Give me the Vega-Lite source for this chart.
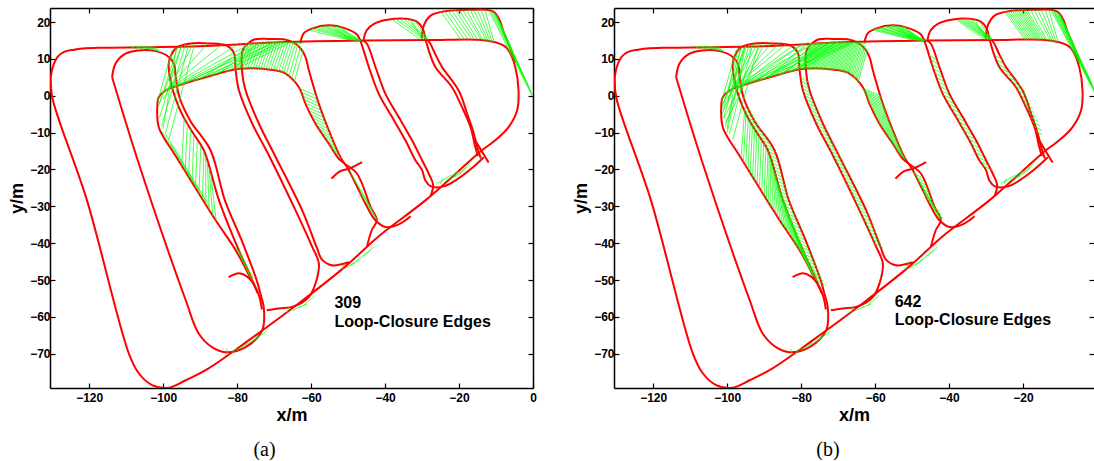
{
"$schema":"https://vega.github.io/schema/vega-lite/v6.json",
"padding":{"left":8,"top":7,"right":0,"bottom":0},
"background":"white",
"spacing":35,
"datasets":{
"traj":[
{"p":"o","i":0,"x":-130.4,"y":5.0},{"p":"o","i":1,"x":-129.9,"y":7.6},{"p":"o","i":2,"x":-128.6,"y":10.5},{"p":"o","i":3,"x":-126.8,"y":11.9},{"p":"o","i":4,"x":-124.1,"y":12.5},{"p":"o","i":5,"x":-121.0,"y":12.9},{"p":"o","i":6,"x":-117.4,"y":13.0},{"p":"o","i":7,"x":-90.4,"y":13.4},{"p":"o","i":8,"x":-68.7,"y":14.5},{"p":"o","i":9,"x":-46.3,"y":15.0},{"p":"o","i":10,"x":-28.2,"y":15.1},{"p":"o","i":11,"x":-14.7,"y":15.2},{"p":"o","i":12,"x":-10.2,"y":14.5},{"p":"o","i":13,"x":-7.9,"y":13.6},{"p":"o","i":14,"x":-6.6,"y":12.3},{"p":"o","i":15,"x":-4.8,"y":7.8},{"p":"o","i":16,"x":-3.9,"y":1.4},{"p":"o","i":17,"x":-4.3,"y":-4.0},{"p":"o","i":18,"x":-6.6,"y":-8.5},{"p":"o","i":19,"x":-10.2,"y":-12.1},{"p":"o","i":20,"x":-13.8,"y":-14.8},{"p":"o","i":21,"x":-29.1,"y":-28.4},{"p":"o","i":22,"x":-41.7,"y":-38.1},{"p":"o","i":23,"x":-50.7,"y":-46.3},{"p":"o","i":24,"x":-63.3,"y":-56.3},{"p":"o","i":25,"x":-76.8,"y":-66.3},{"p":"o","i":26,"x":-87.6,"y":-73.9},{"p":"o","i":27,"x":-93.9,"y":-77.2},{"p":"o","i":28,"x":-98.5,"y":-79.2},{"p":"o","i":29,"x":-103.0,"y":-78.5},{"p":"o","i":30,"x":-106.6,"y":-75.3},{"p":"o","i":31,"x":-109.3,"y":-69.9},{"p":"o","i":32,"x":-120.6,"y":-28.4},{"p":"o","i":33,"x":-130.0,"y":-0.4},{"p":"o","i":34,"x":-130.4,"y":5.0},
{"p":"l2","i":0,"x":-113.8,"y":5.0},{"p":"l2","i":1,"x":-112.9,"y":8.7},{"p":"l2","i":2,"x":-110.2,"y":11.4},{"p":"l2","i":3,"x":-106.6,"y":12.3},{"p":"l2","i":4,"x":-102.1,"y":12.1},{"p":"l2","i":5,"x":-99.0,"y":10.9},{"p":"l2","i":6,"x":-97.1,"y":8.7},{"p":"l2","i":7,"x":-96.6,"y":5.0},{"p":"l2","i":8,"x":-95.6,"y":-0.4},{"p":"l2","i":9,"x":-92.6,"y":-6.9},{"p":"l2","i":10,"x":-87.2,"y":-14.8},{"p":"l2","i":11,"x":-83.3,"y":-28.4},{"p":"l2","i":12,"x":-78.8,"y":-39.2},{"p":"l2","i":13,"x":-74.7,"y":-50.1},{"p":"l2","i":14,"x":-73.6,"y":-54.1},{"p":"l2","i":15,"x":-72.8,"y":-57.4},{"p":"l2","i":16,"x":-73.2,"y":-63.6},{"p":"l2","i":17,"x":-77.7,"y":-68.2},{"p":"l2","i":18,"x":-83.1,"y":-69.6},{"p":"l2","i":19,"x":-86.8,"y":-68.2},{"p":"l2","i":20,"x":-90.4,"y":-64.5},{"p":"l2","i":21,"x":-93.9,"y":-55.5},{"p":"l2","i":22,"x":-106.6,"y":-18.4},{"p":"l2","i":23,"x":-113.8,"y":5.0},
{"p":"l3","i":0,"x":-73.3,"y":-58.0},{"p":"l3","i":1,"x":-74.0,"y":-54.5},{"p":"l3","i":2,"x":-75.9,"y":-50.1},{"p":"l3","i":3,"x":-80.7,"y":-39.2},{"p":"l3","i":4,"x":-84.9,"y":-28.4},{"p":"l3","i":5,"x":-89.0,"y":-14.8},{"p":"l3","i":6,"x":-92.0,"y":-10.0},{"p":"l3","i":7,"x":-94.9,"y":-5.0},{"p":"l3","i":8,"x":-97.6,"y":2.3},{"p":"l3","i":9,"x":-98.5,"y":8.7},{"p":"l3","i":10,"x":-97.9,"y":10.9},{"p":"l3","i":11,"x":-96.3,"y":13.1},{"p":"l3","i":12,"x":-93.1,"y":14.1},{"p":"l3","i":13,"x":-87.6,"y":14.2},{"p":"l3","i":14,"x":-82.8,"y":13.6},{"p":"l3","i":15,"x":-80.9,"y":11.7},{"p":"l3","i":16,"x":-80.4,"y":6.9},{"p":"l3","i":17,"x":-79.5,"y":1.4},{"p":"l3","i":18,"x":-75.9,"y":-7.6},{"p":"l3","i":19,"x":-71.4,"y":-16.2},{"p":"l3","i":20,"x":-64.2,"y":-31.1},{"p":"l3","i":21,"x":-59.7,"y":-41.0},{"p":"l3","i":22,"x":-57.9,"y":-45.5},{"p":"l3","i":23,"x":-58.8,"y":-50.9},{"p":"l3","i":24,"x":-60.6,"y":-54.6},{"p":"l3","i":25,"x":-65.1,"y":-57.3},{"p":"l3","i":26,"x":-68.7,"y":-57.7},{"p":"l3","i":27,"x":-72.0,"y":-58.2},
{"p":"hk","i":0,"x":-82.3,"y":-49.2},{"p":"hk","i":1,"x":-79.5,"y":-48.2},{"p":"hk","i":2,"x":-77.4,"y":-49.0},{"p":"hk","i":3,"x":-75.9,"y":-50.5},{"p":"hk","i":4,"x":-74.5,"y":-53.5},
{"p":"l4","i":0,"x":-49.8,"y":-45.2},{"p":"l4","i":1,"x":-54.4,"y":-46.0},{"p":"l4","i":2,"x":-57.1,"y":-44.4},{"p":"l4","i":3,"x":-58.5,"y":-41.1},{"p":"l4","i":4,"x":-62.4,"y":-31.1},{"p":"l4","i":5,"x":-69.8,"y":-16.2},{"p":"l4","i":6,"x":-74.1,"y":-7.6},{"p":"l4","i":7,"x":-77.7,"y":1.4},{"p":"l4","i":8,"x":-78.6,"y":6.0},{"p":"l4","i":9,"x":-78.5,"y":12.3},{"p":"l4","i":10,"x":-76.8,"y":14.4},{"p":"l4","i":11,"x":-75.2,"y":15.3},{"p":"l4","i":12,"x":-71.4,"y":15.4},{"p":"l4","i":13,"x":-67.4,"y":15.3},{"p":"l4","i":14,"x":-64.7,"y":14.4},{"p":"l4","i":15,"x":-62.8,"y":12.8},{"p":"l4","i":16,"x":-61.5,"y":10.5},{"p":"l4","i":17,"x":-60.6,"y":6.9},{"p":"l4","i":18,"x":-57.9,"y":-2.2},{"p":"l4","i":19,"x":-55.2,"y":-9.4},{"p":"l4","i":20,"x":-52.1,"y":-16.6},{"p":"l4","i":21,"x":-49.8,"y":-20.2},{"p":"l4","i":22,"x":-45.3,"y":-29.3},{"p":"l4","i":23,"x":-42.6,"y":-33.8},{"p":"l4","i":24,"x":-39.9,"y":-35.6},{"p":"l4","i":25,"x":-36.3,"y":-34.9},{"p":"l4","i":26,"x":-33.1,"y":-32.7},
{"p":"in","i":0,"x":-75.9,"y":-50.5},{"p":"in","i":1,"x":-80.4,"y":-41.9},{"p":"in","i":2,"x":-85.8,"y":-33.8},{"p":"in","i":3,"x":-97.6,"y":-14.8},{"p":"in","i":4,"x":-99.4,"y":-12.1},{"p":"in","i":5,"x":-101.2,"y":-8.5},{"p":"in","i":6,"x":-101.6,"y":-3.1},{"p":"in","i":7,"x":-101.2,"y":-0.4},{"p":"in","i":8,"x":-99.4,"y":1.4},{"p":"in","i":9,"x":-95.8,"y":2.8},{"p":"in","i":10,"x":-88.5,"y":5.0},{"p":"in","i":11,"x":-79.5,"y":7.3},{"p":"in","i":12,"x":-70.5,"y":7.0},{"p":"in","i":13,"x":-66.9,"y":6.0},{"p":"in","i":14,"x":-63.3,"y":2.3},{"p":"in","i":15,"x":-61.5,"y":-2.2},{"p":"in","i":16,"x":-58.8,"y":-7.6},{"p":"in","i":17,"x":-55.2,"y":-13.0},{"p":"in","i":18,"x":-52.5,"y":-17.1},{"p":"in","i":19,"x":-50.7,"y":-18.6},{"p":"in","i":20,"x":-47.6,"y":-21.1},{"p":"in","i":21,"x":-43.9,"y":-30.2},{"p":"in","i":22,"x":-42.2,"y":-33.8},{"p":"in","i":23,"x":-43.6,"y":-36.5},{"p":"in","i":24,"x":-44.9,"y":-41.0},
{"p":"x1","i":0,"x":-54.5,"y":-22.5},{"p":"x1","i":1,"x":-52.2,"y":-20.5},{"p":"x1","i":2,"x":-49.8,"y":-19.8},{"p":"x1","i":3,"x":-46.2,"y":-18.0},
{"p":"l5a","i":0,"x":-62.9,"y":14.2},{"p":"l5a","i":1,"x":-62.0,"y":16.9},{"p":"l5a","i":2,"x":-59.8,"y":18.2},{"p":"l5a","i":3,"x":-55.2,"y":19.1},{"p":"l5a","i":4,"x":-50.6,"y":18.2},{"p":"l5a","i":5,"x":-47.6,"y":16.6},{"p":"l5a","i":6,"x":-46.6,"y":14.7},{"p":"l5a","i":7,"x":-45.8,"y":12.3},{"p":"l5a","i":8,"x":-44.4,"y":7.8},{"p":"l5a","i":9,"x":-41.7,"y":0.5},{"p":"l5a","i":10,"x":-38.1,"y":-5.8},{"p":"l5a","i":11,"x":-34.5,"y":-12.1},{"p":"l5a","i":12,"x":-31.8,"y":-17.5},{"p":"l5a","i":13,"x":-30.0,"y":-20.2},{"p":"l5a","i":14,"x":-29.1,"y":-23.0},{"p":"l5a","i":15,"x":-27.6,"y":-24.6},{"p":"l5a","i":16,"x":-24.1,"y":-24.6},{"p":"l5a","i":17,"x":-20.1,"y":-22.4},{"p":"l5a","i":18,"x":-16.0,"y":-19.2},{"p":"l5a","i":19,"x":-13.3,"y":-16.7},
{"p":"l5b","i":0,"x":-46.0,"y":15.0},{"p":"l5b","i":1,"x":-44.9,"y":14.1},{"p":"l5b","i":2,"x":-42.6,"y":7.8},{"p":"l5b","i":3,"x":-39.9,"y":0.5},{"p":"l5b","i":4,"x":-36.3,"y":-5.8},{"p":"l5b","i":5,"x":-32.7,"y":-12.1},{"p":"l5b","i":6,"x":-30.0,"y":-17.5},{"p":"l5b","i":7,"x":-28.2,"y":-21.1},{"p":"l5b","i":8,"x":-27.0,"y":-24.3},{"p":"l5b","i":9,"x":-27.6,"y":-27.0},
{"p":"l6a","i":0,"x":-45.8,"y":15.2},{"p":"l6a","i":1,"x":-45.0,"y":17.7},{"p":"l6a","i":2,"x":-42.8,"y":19.6},{"p":"l6a","i":3,"x":-39.0,"y":20.7},{"p":"l6a","i":4,"x":-34.4,"y":20.9},{"p":"l6a","i":5,"x":-31.4,"y":20.1},{"p":"l6a","i":6,"x":-29.8,"y":18.2},{"p":"l6a","i":7,"x":-29.1,"y":15.5},{"p":"l6a","i":8,"x":-28.2,"y":12.3},{"p":"l6a","i":9,"x":-26.4,"y":7.8},{"p":"l6a","i":10,"x":-21.9,"y":2.3},{"p":"l6a","i":11,"x":-19.2,"y":-3.1},{"p":"l6a","i":12,"x":-16.9,"y":-8.5},{"p":"l6a","i":13,"x":-15.6,"y":-13.9},{"p":"l6a","i":14,"x":-14.9,"y":-16.4},
{"p":"l6b","i":0,"x":-28.5,"y":15.2},{"p":"l6b","i":1,"x":-27.7,"y":14.0},{"p":"l6b","i":2,"x":-26.3,"y":11.0},{"p":"l6b","i":3,"x":-24.6,"y":7.8},{"p":"l6b","i":4,"x":-20.1,"y":1.4},{"p":"l6b","i":5,"x":-17.8,"y":-4.9},{"p":"l6b","i":6,"x":-16.0,"y":-10.3},{"p":"l6b","i":7,"x":-15.1,"y":-13.9},{"p":"l6b","i":8,"x":-14.1,"y":-17.0},
{"p":"x2","i":0,"x":-16.0,"y":-11.5},{"p":"x2","i":1,"x":-12.0,"y":-18.1},
{"p":"b7","i":0,"x":-30.1,"y":15.5},{"p":"b7","i":1,"x":-29.5,"y":19.1},{"p":"b7","i":2,"x":-27.6,"y":21.8},{"p":"b7","i":3,"x":-23.4,"y":23.0},{"p":"b7","i":4,"x":-17.4,"y":23.3},{"p":"b7","i":5,"x":-12.5,"y":23.3},{"p":"b7","i":6,"x":-10.4,"y":22.6},{"p":"b7","i":7,"x":-9.0,"y":20.4},{"p":"b7","i":8,"x":-7.9,"y":17.2},{"p":"b7","i":9,"x":-6.3,"y":13.4},{"p":"b7","i":10,"x":-4.8,"y":9.0}
],
"lc":[
{"g":"c","x":-80,"y":7.3,"u":-77.5,"v":14.3},{"g":"c","x":-79.3,"y":7.3,"u":-76.8,"v":14.3},{"g":"c","x":-78.6,"y":7.27,"u":-76.1,"v":14.3},{"g":"c","x":-77.9,"y":7.25,"u":-75.4,"v":14.3},{"g":"c","x":-77.2,"y":7.23,"u":-74.7,"v":14.3},{"g":"c","x":-76.5,"y":7.2,"u":-74,"v":14.3},{"g":"c","x":-75.8,"y":7.18,"u":-73.3,"v":14.3},{"g":"c","x":-75.1,"y":7.15,"u":-72.6,"v":14.3},{"g":"c","x":-74.4,"y":7.13,"u":-71.9,"v":14.3},{"g":"c","x":-73.7,"y":7.1,"u":-71.2,"v":14.3},{"g":"c","x":-73,"y":7.08,"u":-70.5,"v":14.3},{"g":"c","x":-72.3,"y":7.06,"u":-69.8,"v":14.3},{"g":"c","x":-71.6,"y":7.04,"u":-69.1,"v":14.3},{"g":"c","x":-70.9,"y":7.01,"u":-68.4,"v":14.3},{"g":"c","x":-70.2,"y":6.92,"u":-67.7,"v":14.3},{"g":"c","x":-69.5,"y":6.72,"u":-67,"v":14.3},{"g":"c","x":-68.8,"y":6.53,"u":-66.3,"v":14.3},{"g":"c","x":-68.1,"y":6.33,"u":-65.6,"v":14.3},{"g":"c","x":-67.4,"y":6.14,"u":-64.9,"v":14.3},{"g":"c","x":-66.7,"y":5.8,"u":-64.2,"v":14.3},{"g":"c","x":-66,"y":5.1,"u":-63.5,"v":14.2},{"g":"c","x":-65.3,"y":4.4,"u":-62.8,"v":13.5},{"g":"c","x":-64.6,"y":3.6,"u":-62.1,"v":12.5},
{"g":"c","x":-100.5,"y":0.5,"u":-84,"v":14.0},{"g":"c","x":-99.5,"y":1.3,"u":-80,"v":13.8},{"g":"c","x":-98,"y":2.0,"u":-76,"v":14.4},{"g":"c","x":-97,"y":2.3,"u":-73,"v":14.6},{"g":"c","x":-95.8,"y":2.8,"u":-70,"v":14.5},{"g":"c","x":-94,"y":3.3,"u":-72,"v":14.5},{"g":"c","x":-92,"y":3.9,"u":-68,"v":14.5},{"g":"c","x":-90,"y":4.5,"u":-75,"v":14.4},{"g":"c","x":-88.5,"y":5.0,"u":-70,"v":14.5},{"g":"c","x":-87,"y":5.4,"u":-67,"v":14.4},{"g":"c","x":-85,"y":5.9,"u":-74,"v":14.4},{"g":"c","x":-83,"y":6.4,"u":-69,"v":14.5},{"g":"c","x":-81,"y":6.9,"u":-66,"v":14.3},{"g":"c","x":-100,"y":-1,"u":-92,"v":13.8},{"g":"c","x":-101,"y":-2,"u":-95,"v":13.5},{"g":"c","x":-99,"y":1.5,"u":-88,"v":14.2},{"g":"c","x":-101.3,"y":-3,"u":-96,"v":13.3},{"g":"c","x":-101,"y":-6,"u":-95,"v":13.6},{"g":"c","x":-100.5,"y":-8.5,"u":-94,"v":14},{"g":"c","x":-101.5,"y":-1.5,"u":-97.5,"v":12.5},{"g":"c","x":-99.4,"y":-10.3,"u":-93.1,"v":13.9},{"g":"c","x":-98.5,"y":-12,"u":-91.5,"v":14.0},{"g":"c","x":-100,"y":-9,"u":-96.5,"v":12.9},
{"g":"c","x":-63.18,"y":2,"u":-58.55,"v":0},{"g":"c","x":-62.78,"y":1,"u":-58.26,"v":-1},{"g":"c","x":-62.38,"y":0,"u":-57.96,"v":-2},{"g":"c","x":-61.98,"y":-1,"u":-57.6,"v":-3},{"g":"c","x":-61.58,"y":-2,"u":-57.23,"v":-4},{"g":"c","x":-61.1,"y":-3,"u":-56.85,"v":-5},{"g":"c","x":-60.6,"y":-4,"u":-56.48,"v":-6},{"g":"c","x":-60.1,"y":-5,"u":-56.1,"v":-7},{"g":"c","x":-59.6,"y":-6,"u":-55.73,"v":-8},{"g":"c","x":-59.1,"y":-7,"u":-55.35,"v":-9},{"g":"c","x":-58.53,"y":-8,"u":-54.94,"v":-10},{"g":"c","x":-57.87,"y":-9,"u":-54.51,"v":-11},{"g":"c","x":-57.2,"y":-10,"u":-54.08,"v":-12},{"g":"c","x":-56.53,"y":-11,"u":-53.65,"v":-13},{"g":"c","x":-55.87,"y":-12,"u":-53.22,"v":-14},{"g":"c","x":-55.2,"y":-13,"u":-52.79,"v":-15},{"g":"c","x":-54.54,"y":-14,"u":-52.36,"v":-16},{"g":"c","x":-53.88,"y":-15,"u":-51.84,"v":-17},
{"g":"c","x":-60.5,"y":17.8,"u":-50,"v":15.2},{"g":"c","x":-59.8,"y":18.2,"u":-49,"v":15.1},{"g":"c","x":-59,"y":18.4,"u":-48.5,"v":15.1},{"g":"c","x":-58.2,"y":18.6,"u":-48,"v":15.0},{"g":"c","x":-57.4,"y":18.8,"u":-47.5,"v":15.0},{"g":"c","x":-56.6,"y":18.9,"u":-47,"v":15.0},{"g":"c","x":-55.8,"y":19.0,"u":-47.8,"v":15.0},{"g":"c","x":-55,"y":19.1,"u":-46.8,"v":15.0},{"g":"c","x":-54.2,"y":19.0,"u":-49.5,"v":15.1},{"g":"c","x":-53.4,"y":18.9,"u":-47.2,"v":15.0},{"g":"c","x":-52.6,"y":18.8,"u":-46.5,"v":14.9},{"g":"c","x":-51.8,"y":18.6,"u":-48.5,"v":15.0},{"g":"c","x":-72,"y":14.6,"u":-62,"v":14.3},
{"g":"c","x":-38,"y":20.6,"u":-30.5,"v":15.3},{"g":"c","x":-37,"y":20.7,"u":-29.5,"v":15.3},{"g":"c","x":-36,"y":20.8,"u":-29,"v":15.3},{"g":"c","x":-35,"y":20.9,"u":-28.7,"v":15.3},{"g":"c","x":-34,"y":20.8,"u":-28.5,"v":15.2},{"g":"c","x":-33,"y":20.6,"u":-30,"v":15.3},{"g":"c","x":-32,"y":20.4,"u":-28.3,"v":15.2},
{"g":"c","x":-25,"y":22.9,"u":-19.5,"v":15.2},{"g":"c","x":-24,"y":23.1,"u":-18.5,"v":15.2},{"g":"c","x":-23,"y":23.2,"u":-17.5,"v":15.2},{"g":"c","x":-22,"y":23.2,"u":-16.5,"v":15.2},{"g":"c","x":-21,"y":23.3,"u":-15.8,"v":15.2},{"g":"c","x":-20,"y":23.3,"u":-15,"v":15.2},{"g":"c","x":-19,"y":23.3,"u":-14,"v":15.2},{"g":"c","x":-18,"y":23.3,"u":-13.5,"v":15.0},{"g":"c","x":-17,"y":23.3,"u":-12.5,"v":14.8},{"g":"c","x":-16,"y":23.3,"u":-12,"v":14.7},{"g":"c","x":-15,"y":23.3,"u":-11.5,"v":14.6},{"g":"c","x":-14,"y":23.3,"u":-11,"v":14.5},{"g":"c","x":-13,"y":23.3,"u":-10.5,"v":14.5},{"g":"c","x":-12,"y":23.2,"u":-0.3,"v":0.1},{"g":"c","x":-11,"y":22.8,"u":-0.5,"v":1},{"g":"c","x":-10.5,"y":22.5,"u":-1,"v":2},{"g":"c","x":-10,"y":21.8,"u":-2,"v":4},{"g":"c","x":-9.5,"y":21,"u":-0.3,"v":0.5},{"g":"c","x":-10,"y":22,"u":-3,"v":6},{"g":"c","x":-11.5,"y":23,"u":-1.5,"v":3},{"g":"c","x":-9,"y":20,"u":-2.5,"v":5},
{"g":"c","x":-26,"y":-23.8,"u":-22,"v":-21.5},{"g":"c","x":-24,"y":-23.5,"u":-20,"v":-20.5},{"g":"c","x":-22,"y":-22.5,"u":-18,"v":-19.5},{"g":"c","x":-20,"y":-21.5,"u":-16.5,"v":-17.5},{"g":"c","x":-25,"y":-24,"u":-24.5,"v":-22.5},{"g":"c","x":-21,"y":-22,"u":-20.5,"v":-20.5},{"g":"c","x":-51.5,"y":-47.3,"u":-51,"v":-45.2},{"g":"c","x":-50.5,"y":-46.7,"u":-48,"v":-45.3},{"g":"c","x":-49.5,"y":-46,"u":-47,"v":-44.5},{"g":"c","x":-48,"y":-45,"u":-44,"v":-42},{"g":"c","x":-46,"y":-43.5,"u":-43,"v":-41},{"g":"c","x":-66.5,"y":-58.9,"u":-66,"v":-57.4},{"g":"c","x":-65,"y":-58.3,"u":-63,"v":-57.2},{"g":"c","x":-63.5,"y":-57.5,"u":-61,"v":-56.5},{"g":"c","x":-62,"y":-56.8,"u":-59,"v":-54.3},{"g":"c","x":-82.5,"y":-70.3,"u":-82.8,"v":-68.6},{"g":"c","x":-81.5,"y":-69.8,"u":-80,"v":-68.5},{"g":"c","x":-80,"y":-69,"u":-77,"v":-67},{"g":"c","x":-78,"y":-68,"u":-73.5,"v":-64.8},{"g":"c","x":-76,"y":-66.8,"u":-72,"v":-63.8},{"g":"c","x":-49.5,"y":-20.5,"u":-42,"v":-34},{"g":"c","x":-48.5,"y":-22.5,"u":-43.5,"v":-31},{"g":"c","x":-47,"y":-26,"u":-42.5,"v":-33},{"g":"c","x":-80.4,"y":-41,"u":-75.9,"v":-50.1},{"g":"c","x":-80,"y":-41.5,"u":-76.5,"v":-49},{"g":"c","x":-79.5,"y":-42,"u":-75.6,"v":-49.6},
{"g":"c","x":-109,"y":13.5,"u":-107,"v":12.5},{"g":"c","x":-108,"y":13.5,"u":-105,"v":12.5},{"g":"c","x":-107,"y":13.5,"u":-103,"v":12.4},{"g":"c","x":-106,"y":13.5,"u":-102,"v":12.3},{"g":"c","x":-105,"y":13.5,"u":-101.5,"v":12.1},{"g":"c","x":-104,"y":13.5,"u":-100.8,"v":11.9},{"g":"c","x":-103,"y":13.5,"u":-101,"v":12.2},
{"g":"l","x":-94.32,"y":-6,"u":-94.99,"v":-19},{"g":"l","x":-93.45,"y":-7.5,"u":-94.06,"v":-20.5},{"g":"l","x":-92.58,"y":-9,"u":-93.13,"v":-22},{"g":"l","x":-91.69,"y":-10.5,"u":-92.2,"v":-23.5},{"g":"l","x":-90.75,"y":-12,"u":-91.27,"v":-25},{"g":"l","x":-89.81,"y":-13.5,"u":-90.33,"v":-26.5},{"g":"l","x":-88.94,"y":-15,"u":-89.4,"v":-28},{"g":"l","x":-88.49,"y":-16.5,"u":-88.47,"v":-29.5},{"g":"l","x":-88.04,"y":-18,"u":-87.54,"v":-31},{"g":"l","x":-87.58,"y":-19.5,"u":-86.61,"v":-32.5},{"g":"l","x":-87.13,"y":-21,"u":-85.67,"v":-34},{"g":"l","x":-100.5,"y":-9.5,"u":-90.5,"v":-25.5},{"g":"l","x":-99.4,"y":-10.3,"u":-88.5,"v":-28.4},{"g":"l","x":-98,"y":-13,"u":-87.5,"v":-30},
{"g":"r","x":-79.65,"y":7.29,"u":-77.15,"v":14.3},{"g":"r","x":-78.95,"y":7.27,"u":-76.45,"v":14.3},{"g":"r","x":-78.25,"y":7.24,"u":-75.75,"v":14.3},{"g":"r","x":-77.55,"y":7.22,"u":-75.05,"v":14.3},{"g":"r","x":-76.85,"y":7.2,"u":-74.35,"v":14.3},{"g":"r","x":-76.15,"y":7.18,"u":-73.65,"v":14.3},{"g":"r","x":-75.45,"y":7.15,"u":-72.95,"v":14.3},{"g":"r","x":-74.75,"y":7.13,"u":-72.25,"v":14.3},{"g":"r","x":-74.05,"y":7.11,"u":-71.55,"v":14.3},{"g":"r","x":-73.35,"y":7.09,"u":-70.85,"v":14.3},{"g":"r","x":-72.65,"y":7.06,"u":-70.15,"v":14.3},{"g":"r","x":-71.95,"y":7.04,"u":-69.45,"v":14.3},{"g":"r","x":-71.25,"y":7.02,"u":-68.75,"v":14.3},{"g":"r","x":-70.55,"y":7.0,"u":-68.05,"v":14.3},{"g":"r","x":-69.85,"y":6.82,"u":-67.35,"v":14.3},{"g":"r","x":-69.15,"y":6.63,"u":-66.65,"v":14.3},{"g":"r","x":-68.45,"y":6.43,"u":-65.95,"v":14.3},{"g":"r","x":-67.75,"y":6.24,"u":-65.25,"v":14.3},{"g":"r","x":-67.05,"y":6.04,"u":-64.55,"v":14.3},{"g":"r","x":-66.35,"y":5.45,"u":-63.85,"v":14.0},{"g":"r","x":-65.65,"y":4.73,"u":-63.15,"v":13.8},{"g":"r","x":-64.95,"y":4.0,"u":-62.45,"v":13.0},
{"g":"r","x":-101,"y":-4,"u":-93,"v":14.0},{"g":"r","x":-100.8,"y":-6,"u":-91,"v":14},{"g":"r","x":-100.5,"y":-7.5,"u":-90,"v":14.1},{"g":"r","x":-98.8,"y":1.6,"u":-86,"v":14.1},{"g":"r","x":-97.5,"y":2.1,"u":-82,"v":13.8},{"g":"r","x":-96.5,"y":2.4,"u":-79,"v":14.3},{"g":"r","x":-93,"y":3.6,"u":-77,"v":14.5},{"g":"r","x":-91,"y":4.2,"u":-71,"v":14.8},{"g":"r","x":-89,"y":4.8,"u":-78,"v":14.6},{"g":"r","x":-86,"y":5.6,"u":-72,"v":14.7},{"g":"r","x":-84,"y":6.2,"u":-66.5,"v":14.4},{"g":"r","x":-82,"y":6.6,"u":-70,"v":14.7},{"g":"r","x":-100,"y":-2,"u":-95.5,"v":13.0},{"g":"r","x":-101.3,"y":-5,"u":-97,"v":12.8},{"g":"r","x":-100,"y":-10,"u":-95,"v":13.5},
{"g":"r","x":-62.98,"y":1.5,"u":-58.4,"v":-0.5},{"g":"r","x":-62.58,"y":0.5,"u":-58.11,"v":-1.5},{"g":"r","x":-62.18,"y":-0.5,"u":-57.79,"v":-2.5},{"g":"r","x":-61.78,"y":-1.5,"u":-57.41,"v":-3.5},{"g":"r","x":-61.35,"y":-2.5,"u":-57.04,"v":-4.5},{"g":"r","x":-60.85,"y":-3.5,"u":-56.66,"v":-5.5},{"g":"r","x":-60.35,"y":-4.5,"u":-56.29,"v":-6.5},{"g":"r","x":-59.85,"y":-5.5,"u":-55.91,"v":-7.5},{"g":"r","x":-59.35,"y":-6.5,"u":-55.54,"v":-8.5},{"g":"r","x":-58.85,"y":-7.5,"u":-55.16,"v":-9.5},{"g":"r","x":-58.2,"y":-8.5,"u":-54.73,"v":-10.5},{"g":"r","x":-57.53,"y":-9.5,"u":-54.3,"v":-11.5},{"g":"r","x":-56.87,"y":-10.5,"u":-53.87,"v":-12.5},{"g":"r","x":-56.2,"y":-11.5,"u":-53.43,"v":-13.5},{"g":"r","x":-55.53,"y":-12.5,"u":-53.0,"v":-14.5},{"g":"r","x":-54.87,"y":-13.5,"u":-52.57,"v":-15.5},{"g":"r","x":-54.21,"y":-14.5,"u":-52.14,"v":-16.5},{"g":"r","x":-53.54,"y":-15.5,"u":-51.52,"v":-17.5},
{"g":"r","x":-95.27,"y":-4,"u":-96.23,"v":-17},{"g":"r","x":-94.9,"y":-5,"u":-95.61,"v":-18},{"g":"r","x":-94.32,"y":-6,"u":-94.99,"v":-19},{"g":"r","x":-93.74,"y":-7,"u":-94.37,"v":-20},{"g":"r","x":-93.16,"y":-8,"u":-93.75,"v":-21},{"g":"r","x":-92.58,"y":-9,"u":-93.13,"v":-22},{"g":"r","x":-92.0,"y":-10,"u":-92.51,"v":-23},{"g":"r","x":-91.38,"y":-11,"u":-91.89,"v":-24},{"g":"r","x":-90.75,"y":-12,"u":-91.27,"v":-25},{"g":"r","x":-90.13,"y":-13,"u":-90.64,"v":-26},{"g":"r","x":-89.5,"y":-14,"u":-90.02,"v":-27},{"g":"r","x":-88.94,"y":-15,"u":-89.4,"v":-28},{"g":"r","x":-88.64,"y":-16,"u":-88.78,"v":-29},{"g":"r","x":-88.34,"y":-17,"u":-88.16,"v":-30},{"g":"r","x":-88.04,"y":-18,"u":-87.54,"v":-31},{"g":"r","x":-87.73,"y":-19,"u":-86.92,"v":-32},{"g":"r","x":-87.43,"y":-20,"u":-86.3,"v":-33},{"g":"r","x":-87.13,"y":-21,"u":-85.67,"v":-34},{"g":"r","x":-86.83,"y":-22,"u":-85.0,"v":-35},{"g":"r","x":-86.53,"y":-23,"u":-84.33,"v":-36},{"g":"r","x":-86.23,"y":-24,"u":-83.66,"v":-37},{"g":"r","x":-85.93,"y":-25,"u":-83.0,"v":-38},{"g":"r","x":-85.62,"y":-26,"u":-82.33,"v":-39},{"g":"r","x":-85.32,"y":-27,"u":-81.67,"v":-40},{"g":"r","x":-85.02,"y":-28,"u":-81.0,"v":-41},{"g":"r","x":-84.67,"y":-29,"u":-80.35,"v":-42},{"g":"r","x":-84.28,"y":-30,"u":-79.82,"v":-43},{"g":"r","x":-83.89,"y":-31,"u":-79.3,"v":-44},{"g":"r","x":-83.5,"y":-32,"u":-78.78,"v":-45},{"g":"r","x":-83.11,"y":-33,"u":-78.26,"v":-46},{"g":"r","x":-82.72,"y":-34,"u":-77.74,"v":-47},{"g":"r","x":-82.33,"y":-35,"u":-77.21,"v":-48},{"g":"r","x":-81.94,"y":-36,"u":-76.69,"v":-49},
{"g":"r","x":-95.64,"y":-3,"u":-93.4,"v":-4.2},{"g":"r","x":-95.27,"y":-4,"u":-93.03,"v":-5.2},{"g":"r","x":-94.9,"y":-5,"u":-92.4,"v":-6.2},{"g":"r","x":-94.32,"y":-6,"u":-91.82,"v":-7.2},{"g":"r","x":-93.74,"y":-7,"u":-91.24,"v":-8.2},{"g":"r","x":-93.16,"y":-8,"u":-90.66,"v":-9.2},{"g":"r","x":-92.58,"y":-9,"u":-90.08,"v":-10.2},{"g":"r","x":-92.0,"y":-10,"u":-89.45,"v":-11.2},{"g":"r","x":-91.38,"y":-11,"u":-88.83,"v":-12.2},{"g":"r","x":-90.75,"y":-12,"u":-88.2,"v":-13.2},{"g":"r","x":-90.13,"y":-13,"u":-87.58,"v":-14.2},{"g":"r","x":-89.5,"y":-14,"u":-86.95,"v":-15.2},{"g":"r","x":-88.94,"y":-15,"u":-86.78,"v":-16.2},{"g":"r","x":-88.64,"y":-16,"u":-86.48,"v":-17.2},{"g":"r","x":-88.34,"y":-17,"u":-86.18,"v":-18.2},{"g":"r","x":-88.04,"y":-18,"u":-85.88,"v":-19.2},{"g":"r","x":-87.73,"y":-19,"u":-85.57,"v":-20.2},{"g":"r","x":-87.43,"y":-20,"u":-85.27,"v":-21.2},{"g":"r","x":-87.13,"y":-21,"u":-84.97,"v":-22.2},{"g":"r","x":-86.83,"y":-22,"u":-84.67,"v":-23.2},{"g":"r","x":-86.53,"y":-23,"u":-84.37,"v":-24.2},{"g":"r","x":-86.23,"y":-24,"u":-84.07,"v":-25.2},{"g":"r","x":-85.93,"y":-25,"u":-83.77,"v":-26.2},{"g":"r","x":-85.62,"y":-26,"u":-83.46,"v":-27.2},{"g":"r","x":-85.32,"y":-27,"u":-83.16,"v":-28.2},{"g":"r","x":-85.02,"y":-28,"u":-82.86,"v":-29.2},{"g":"r","x":-84.67,"y":-29,"u":-82.4,"v":-30.2},{"g":"r","x":-84.28,"y":-30,"u":-82.01,"v":-31.2},{"g":"r","x":-83.89,"y":-31,"u":-81.62,"v":-32.2},{"g":"r","x":-83.5,"y":-32,"u":-81.23,"v":-33.2},{"g":"r","x":-83.11,"y":-33,"u":-80.84,"v":-34.2},{"g":"r","x":-82.72,"y":-34,"u":-80.45,"v":-35.2},{"g":"r","x":-82.33,"y":-35,"u":-80.06,"v":-36.2},{"g":"r","x":-81.94,"y":-36,"u":-79.67,"v":-37.2},{"g":"r","x":-81.56,"y":-37,"u":-79.29,"v":-38.2},{"g":"r","x":-81.17,"y":-38,"u":-78.9,"v":-39.2},{"g":"r","x":-80.78,"y":-39,"u":-78.51,"v":-40.2},{"g":"r","x":-80.35,"y":-40,"u":-78.02,"v":-41.2},{"g":"r","x":-79.91,"y":-41,"u":-77.58,"v":-42.2},{"g":"r","x":-79.47,"y":-42,"u":-77.14,"v":-43.2},{"g":"r","x":-79.03,"y":-43,"u":-76.7,"v":-44.2},{"g":"r","x":-78.59,"y":-44,"u":-76.26,"v":-45.2},{"g":"r","x":-78.15,"y":-45,"u":-75.82,"v":-46.2},{"g":"r","x":-77.71,"y":-46,"u":-75.38,"v":-47.2},{"g":"r","x":-77.27,"y":-47,"u":-74.94,"v":-48.2},{"g":"r","x":-76.83,"y":-48,"u":-74.5,"v":-49.2},{"g":"r","x":-76.39,"y":-49,"u":-74.06,"v":-50.2},{"g":"r","x":-75.95,"y":-50,"u":-73.62,"v":-51.2},
{"g":"r","x":-80.09,"y":5,"u":-78.19,"v":3.8},{"g":"r","x":-79.93,"y":4,"u":-78.03,"v":2.8},{"g":"r","x":-79.76,"y":3,"u":-77.86,"v":1.8},{"g":"r","x":-79.6,"y":2,"u":-77.7,"v":0.8},{"g":"r","x":-79.34,"y":1,"u":-77.16,"v":-0.2},{"g":"r","x":-78.94,"y":0,"u":-76.76,"v":-1.2},{"g":"r","x":-78.54,"y":-1,"u":-76.36,"v":-2.2},{"g":"r","x":-78.14,"y":-2,"u":-75.96,"v":-3.2},{"g":"r","x":-77.74,"y":-3,"u":-75.56,"v":-4.2},{"g":"r","x":-77.34,"y":-4,"u":-75.14,"v":-5.2},{"g":"r","x":-76.94,"y":-5,"u":-74.76,"v":-6.2},{"g":"r","x":-76.54,"y":-6,"u":-74.36,"v":-7.2},{"g":"r","x":-76.14,"y":-7,"u":-73.96,"v":-8.2},{"g":"r","x":-75.69,"y":-8,"u":-73.36,"v":-9.2},{"g":"r","x":-75.17,"y":-9,"u":-72.84,"v":-10.2},{"g":"r","x":-74.64,"y":-10,"u":-72.31,"v":-11.2},{"g":"r","x":-74.12,"y":-11,"u":-71.79,"v":-12.2},{"g":"r","x":-73.6,"y":-12,"u":-71.27,"v":-13.2},{"g":"r","x":-73.07,"y":-13,"u":-70.74,"v":-14.2},{"g":"r","x":-72.55,"y":-14,"u":-70.22,"v":-15.2},{"g":"r","x":-72.03,"y":-15,"u":-69.7,"v":-16.2},{"g":"r","x":-71.5,"y":-16,"u":-69.17,"v":-17.2},{"g":"r","x":-71.01,"y":-17,"u":-68.73,"v":-18.2},{"g":"r","x":-70.53,"y":-18,"u":-68.25,"v":-19.2},{"g":"r","x":-70.05,"y":-19,"u":-67.77,"v":-20.2},{"g":"r","x":-69.56,"y":-20,"u":-67.28,"v":-21.2},{"g":"r","x":-69.08,"y":-21,"u":-66.8,"v":-22.2},{"g":"r","x":-68.6,"y":-22,"u":-66.32,"v":-23.2},{"g":"r","x":-68.12,"y":-23,"u":-65.84,"v":-24.2},{"g":"r","x":-67.64,"y":-24,"u":-65.36,"v":-25.2},{"g":"r","x":-67.15,"y":-25,"u":-64.87,"v":-26.2},{"g":"r","x":-66.67,"y":-26,"u":-64.39,"v":-27.2},{"g":"r","x":-66.19,"y":-27,"u":-63.91,"v":-28.2},{"g":"r","x":-65.7,"y":-28,"u":-63.42,"v":-29.2},{"g":"r","x":-65.22,"y":-29,"u":-62.94,"v":-30.2},{"g":"r","x":-64.74,"y":-30,"u":-62.46,"v":-31.2},{"g":"r","x":-64.25,"y":-31,"u":-61.97,"v":-32.2},{"g":"r","x":-63.79,"y":-32,"u":-61.54,"v":-33.2},{"g":"r","x":-63.34,"y":-33,"u":-61.09,"v":-34.2},{"g":"r","x":-62.88,"y":-34,"u":-60.63,"v":-35.2},{"g":"r","x":-62.43,"y":-35,"u":-60.18,"v":-36.2},{"g":"r","x":-61.97,"y":-36,"u":-59.72,"v":-37.2},{"g":"r","x":-61.52,"y":-37,"u":-59.27,"v":-38.2},{"g":"r","x":-61.07,"y":-38,"u":-58.82,"v":-39.2},{"g":"r","x":-60.61,"y":-39,"u":-58.36,"v":-40.2},{"g":"r","x":-60.16,"y":-40,"u":-57.91,"v":-41.2},
{"g":"r","x":-45.4,"y":11,"u":-43.43,"v":9.8},{"g":"r","x":-45.02,"y":9.8,"u":-43.05,"v":8.6},{"g":"r","x":-44.65,"y":8.6,"u":-42.68,"v":7.4},{"g":"r","x":-44.25,"y":7.4,"u":-42.21,"v":6.2},{"g":"r","x":-43.81,"y":6.2,"u":-41.77,"v":5},{"g":"r","x":-43.36,"y":5,"u":-41.32,"v":3.8},{"g":"r","x":-42.92,"y":3.8,"u":-40.88,"v":2.6},{"g":"r","x":-42.48,"y":2.6,"u":-40.44,"v":1.4},{"g":"r","x":-42.03,"y":1.4,"u":-39.99,"v":0.2},{"g":"r","x":-41.53,"y":0.2,"u":-39.24,"v":-1},{"g":"r","x":-40.84,"y":-1,"u":-38.55,"v":-2.2},{"g":"r","x":-40.16,"y":-2.2,"u":-37.87,"v":-3.4},{"g":"r","x":-39.47,"y":-3.4,"u":-37.18,"v":-4.6},{"g":"r","x":-38.79,"y":-4.6,"u":-36.5,"v":-5.8},{"g":"r","x":-38.1,"y":-5.8,"u":-35.81,"v":-7},{"g":"r","x":-37.41,"y":-7,"u":-35.12,"v":-8.2},{"g":"r","x":-36.73,"y":-8.2,"u":-34.44,"v":-9.4},{"g":"r","x":-36.04,"y":-9.4,"u":-33.75,"v":-10.6},{"g":"r","x":-35.36,"y":-10.6,"u":-33.07,"v":-11.8},{"g":"r","x":-34.67,"y":-11.8,"u":-32.38,"v":-13},{"g":"r","x":-34.05,"y":-13,"u":-31.85,"v":-14.2},{"g":"r","x":-33.45,"y":-14.2,"u":-31.25,"v":-15.4},{"g":"r","x":-32.85,"y":-15.4,"u":-30.65,"v":-16.6},{"g":"r","x":-32.25,"y":-16.6,"u":-30.05,"v":-17.8},{"g":"r","x":-31.6,"y":-17.8,"u":-29.2,"v":-19},{"g":"r","x":-30.8,"y":-19,"u":-28.4,"v":-20.2},
{"g":"r","x":-27.68,"y":11,"u":-25.6,"v":9.8},{"g":"r","x":-27.2,"y":9.8,"u":-25.12,"v":8.6},{"g":"r","x":-26.72,"y":8.6,"u":-24.64,"v":7.4},{"g":"r","x":-26.07,"y":7.4,"u":-23.49,"v":6.2},{"g":"r","x":-25.09,"y":6.2,"u":-22.51,"v":5},{"g":"r","x":-24.11,"y":5,"u":-21.53,"v":3.8},{"g":"r","x":-23.13,"y":3.8,"u":-20.55,"v":2.6},{"g":"r","x":-22.15,"y":2.6,"u":-19.57,"v":1.4},{"g":"r","x":-21.45,"y":1.4,"u":-19.25,"v":0.2},{"g":"r","x":-20.85,"y":0.2,"u":-18.65,"v":-1},{"g":"r","x":-20.25,"y":-1,"u":-18.05,"v":-2.2},{"g":"r","x":-19.65,"y":-2.2,"u":-17.45,"v":-3.4},{"g":"r","x":-19.07,"y":-3.4,"u":-16.96,"v":-4.6},{"g":"r","x":-18.56,"y":-4.6,"u":-16.45,"v":-5.8},{"g":"r","x":-18.05,"y":-5.8,"u":-15.94,"v":-7},{"g":"r","x":-17.54,"y":-7,"u":-15.43,"v":-8.2},{"g":"r","x":-17.03,"y":-8.2,"u":-14.92,"v":-9.4},{"g":"r","x":-16.68,"y":-9.4,"u":-14.79,"v":-10.6},
{"g":"r","x":-49.4,"y":-21,"u":-47.41,"v":-22.2},{"g":"r","x":-48.91,"y":-22,"u":-46.92,"v":-23.2},{"g":"r","x":-48.41,"y":-23,"u":-46.42,"v":-24.2},{"g":"r","x":-47.92,"y":-24,"u":-45.93,"v":-25.2},{"g":"r","x":-47.43,"y":-25,"u":-45.44,"v":-26.2},{"g":"r","x":-46.93,"y":-26,"u":-44.94,"v":-27.2},{"g":"r","x":-46.44,"y":-27,"u":-44.45,"v":-28.2},{"g":"r","x":-45.94,"y":-28,"u":-43.95,"v":-29.2},{"g":"r","x":-45.45,"y":-29,"u":-43.46,"v":-30.2},{"g":"r","x":-44.88,"y":-30,"u":-42.76,"v":-31.2},{"g":"r","x":-44.28,"y":-31,"u":-42.16,"v":-32.2},{"g":"r","x":-43.68,"y":-32,"u":-41.56,"v":-33.2},
{"g":"r","x":-60.2,"y":18,"u":-48.8,"v":15.1},{"g":"r","x":-58.6,"y":18.5,"u":-47.8,"v":15},{"g":"r","x":-57,"y":18.85,"u":-47.3,"v":15},{"g":"r","x":-55.4,"y":19.05,"u":-47.1,"v":15},{"g":"r","x":-53.8,"y":18.95,"u":-46.9,"v":15},{"g":"r","x":-52.2,"y":18.7,"u":-47.5,"v":15},
{"g":"r","x":-24.5,"y":23,"u":-19,"v":15.2},{"g":"r","x":-23.5,"y":23.1,"u":-18,"v":15.2},{"g":"r","x":-22.5,"y":23.2,"u":-17,"v":15.2},{"g":"r","x":-21.5,"y":23.3,"u":-16.2,"v":15.2},{"g":"r","x":-20.5,"y":23.3,"u":-15.4,"v":15.2},{"g":"r","x":-19.5,"y":23.3,"u":-14.5,"v":15.2},{"g":"r","x":-12.5,"y":23.3,"u":-0.8,"v":1.5},{"g":"r","x":-11.8,"y":23.1,"u":-1,"v":2.5},{"g":"r","x":-10.8,"y":22.7,"u":-1.5,"v":3.5},{"g":"r","x":-10.2,"y":22.2,"u":-2,"v":4.5},
{"g":"r","x":-37.5,"y":20.65,"u":-29.7,"v":15.3},{"g":"r","x":-36.5,"y":20.75,"u":-29.2,"v":15.3},{"g":"r","x":-35.5,"y":20.85,"u":-28.9,"v":15.3},{"g":"r","x":-34.5,"y":20.85,"u":-28.6,"v":15.2}
],
"labA":[{"x":-53.7,"y":-57.6,"t":"309"},{"x":-53.7,"y":-62.7,"t":"Loop-Closure Edges"}],
"labB":[{"x":-54.7,"y":-57.3,"t":"642"},{"x":-54.7,"y":-62.2,"t":"Loop-Closure Edges"}]
},
"hconcat":[
{
"width":483,"height":380,
"title":{"text":"(a)","orient":"bottom","font":"Liberation Serif","fontSize":20,"fontWeight":"normal","color":"black","frame":"group","anchor":"middle","dx":-27,"offset":16},
"layer":[
{"data":{"name":"traj"},
"mark":{"type":"line","color":"#ff0000","strokeWidth":2,"interpolate":"catmull-rom","clip":true},
"encoding":{
"x":{"field":"x","type":"quantitative","scale":{"domain":[-130.6,0],"nice":false,"zero":false},"axis":{"orient":"bottom","values":[-120,-100,-80,-60,-40,-20,0],"title":"x/m","labelPadding":9}},
"y":{"field":"y","type":"quantitative","scale":{"domain":[-79.3,23.8],"nice":false,"zero":false},"axis":{"orient":"left","values":[-70,-60,-50,-40,-30,-20,-10,0,10,20],"title":"y/m"}},
"detail":{"field":"p","type":"nominal"},
"order":{"field":"i","type":"quantitative"}}},
{"data":{"name":"lc"},
"transform":[{"filter":"datum.g != 'r'"}],
"mark":{"type":"rule","color":"#00ff00","strokeWidth":0.7,"clip":true},
"encoding":{
"x":{"field":"x","type":"quantitative","scale":{"domain":[-130.6,0],"nice":false,"zero":false},"axis":{"orient":"top","values":[-120,-100,-80,-60,-40,-20,0],"labels":false,"title":null}},
"y":{"field":"y","type":"quantitative","scale":{"domain":[-79.3,23.8],"nice":false,"zero":false},"axis":{"orient":"right","values":[-70,-60,-50,-40,-30,-20,-10,0,10,20],"labels":false,"title":null}},
"x2":{"field":"u"},"y2":{"field":"v"}}},
{"data":{"name":"labA"},
"mark":{"type":"text","align":"left","baseline":"alphabetic","font":"Liberation Sans","fontSize":16,"fontWeight":"bold","color":"black"},
"encoding":{
"x":{"field":"x","type":"quantitative","scale":{"domain":[-130.6,0],"nice":false,"zero":false},"axis":null},
"y":{"field":"y","type":"quantitative","scale":{"domain":[-79.3,23.8],"nice":false,"zero":false},"axis":null},
"text":{"field":"t"}}}
],
"resolve":{"axis":{"x":"independent","y":"independent"}}
},
{
"width":480,"height":380,
"title":{"text":"(b)","orient":"bottom","font":"Liberation Serif","fontSize":20,"fontWeight":"normal","color":"black","frame":"group","anchor":"middle","dx":-26,"offset":16},
"layer":[
{"data":{"name":"traj"},
"mark":{"type":"line","color":"#ff0000","strokeWidth":2,"interpolate":"catmull-rom","clip":true},
"encoding":{
"x":{"field":"x","type":"quantitative","scale":{"domain":[-130.6,-0.8],"nice":false,"zero":false},"axis":{"orient":"bottom","values":[-120,-100,-80,-60,-40,-20],"title":"x/m","labelPadding":9}},
"y":{"field":"y","type":"quantitative","scale":{"domain":[-79.3,23.8],"nice":false,"zero":false},"axis":{"orient":"left","values":[-70,-60,-50,-40,-30,-20,-10,0,10,20],"title":"y/m"}},
"detail":{"field":"p","type":"nominal"},
"order":{"field":"i","type":"quantitative"}}},
{"data":{"name":"lc"},
"transform":[{"filter":"datum.g != 'l'"}],
"mark":{"type":"rule","color":"#00ff00","strokeWidth":0.7,"clip":true},
"encoding":{
"x":{"field":"x","type":"quantitative","scale":{"domain":[-130.6,-0.8],"nice":false,"zero":false},"axis":{"orient":"top","values":[-120,-100,-80,-60,-40,-20],"labels":false,"title":null}},
"y":{"field":"y","type":"quantitative","scale":{"domain":[-79.3,23.8],"nice":false,"zero":false},"axis":{"orient":"right","values":[-70,-60,-50,-40,-30,-20,-10,0,10,20],"labels":false,"title":null,"domain":false}},
"x2":{"field":"u"},"y2":{"field":"v"}}},
{"data":{"name":"labB"},
"mark":{"type":"text","align":"left","baseline":"alphabetic","font":"Liberation Sans","fontSize":16,"fontWeight":"bold","color":"black"},
"encoding":{
"x":{"field":"x","type":"quantitative","scale":{"domain":[-130.6,-0.8],"nice":false,"zero":false},"axis":null},
"y":{"field":"y","type":"quantitative","scale":{"domain":[-79.3,23.8],"nice":false,"zero":false},"axis":null},
"text":{"field":"t"}}}
],
"resolve":{"axis":{"x":"independent","y":"independent"}}
}
],
"config":{
"view":{"stroke":null},
"font":"Liberation Sans",
"axis":{"grid":false,"domainColor":"#000","domainWidth":1.5,"tickColor":"#000","tickWidth":1.2,"tickSize":-5,"labelFont":"Liberation Sans","labelFontSize":12,"labelFontWeight":"bold","labelColor":"#000","labelPadding":5,"titleFont":"Liberation Sans","titleFontSize":18,"titleFontWeight":"bold","titleColor":"#000","titlePadding":3,"labelFlush":false,"labelOverlap":false}
}
}
